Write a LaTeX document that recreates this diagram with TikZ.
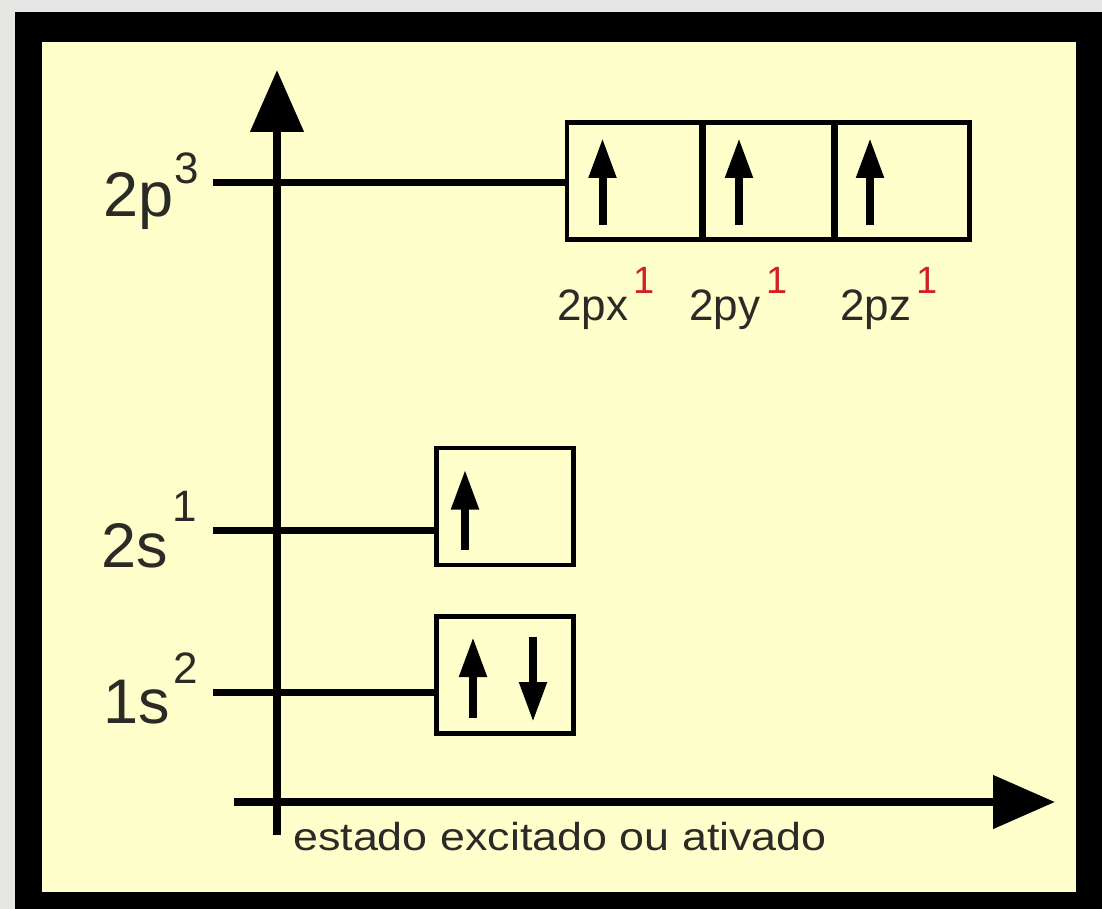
\documentclass[tikz,border=0pt]{standalone}
\usepackage{fontspec}
\setmainfont{Liberation Sans}
\usetikzlibrary{arrows.meta}
\definecolor{bggray}{HTML}{E6E6E4}
\definecolor{paper}{HTML}{FFFFCC}
\definecolor{txtgray}{HTML}{2A2A26}
\definecolor{supred}{HTML}{D42020}
\tikzset{
  orb/.style={draw=black, line width=4.5pt, minimum height=117pt, inner sep=0pt, outer sep=0pt},
  level/.style={line width=7pt},
  axis/.style={line width=8pt, -{Triangle[length=62pt,width=52pt]}},
  spin/.style={line width=8pt, -{Triangle[length=40pt,width=26pt]}},
  divider/.style={line width=7pt},
  biglab/.style={anchor=base west, inner sep=0pt, text=txtgray, font=\fontsize{63}{63}\selectfont},
  suplab/.style={anchor=base west, inner sep=0pt, text=txtgray, font=\fontsize{44}{44}\selectfont},
  sublab/.style={anchor=base west, inner sep=0pt, text=txtgray, font=\fontsize{44}{44}\selectfont},
  redsup/.style={anchor=base west, inner sep=0pt, text=supred, font=\fontsize{38}{38}\selectfont},
}
\begin{document}
\begin{tikzpicture}[x=1pt,y=-1pt]
\useasboundingbox (0,0) rectangle (1102,909);
% background and frame
\fill[bggray] (0,0) rectangle (1102,909);
\fill[black] (15,12) rectangle (1102,909);
\fill[paper] (42,42) rectangle (1076,892);

% orbital boxes
\node[orb, minimum width=135pt] (px) at (634.5,181) {};
\node[orb, minimum width=133pt] (py) at (768,181) {};
\node[orb, minimum width=135pt] (pz) at (902,181) {};
\node[orb, minimum width=137pt] (s2) at (505,506.5) {};
\node[orb, minimum width=137pt] (s1) at (505,675) {};
\draw[divider] (px.north east) -- (px.south east);
\draw[divider] (py.north east) -- (py.south east);

% axes
\coordinate (vbot) at (277,835);
\coordinate (vtop) at (277,70);
\coordinate (hleft) at (234,802);
\coordinate (hright) at (1055,802);
\draw[axis] (vbot) -- (vtop);
\draw[axis] (hleft) -- (hright);

% level lines
\coordinate (l2p) at (213,183);
\coordinate (l2s) at (213,530);
\coordinate (l1s) at (213,692);
\draw[level] (l2p) -- (l2p -| px.west);
\draw[level] (l2s) -- (l2s -| s2.west);
\draw[level] (l1s) -- (l1s -| s1.west);

% spins
\draw[spin] ([xshift=-32pt,yshift=-44pt]px.center) -- ([xshift=-32pt,yshift=43pt]px.center);
\draw[spin] ([xshift=-29pt,yshift=-44pt]py.center) -- ([xshift=-29pt,yshift=43pt]py.center);
\draw[spin] ([xshift=-32pt,yshift=-44pt]pz.center) -- ([xshift=-32pt,yshift=43pt]pz.center);
\draw[spin] ([xshift=-40pt,yshift=-43pt]s2.center) -- ([xshift=-40pt,yshift=37pt]s2.center);
\draw[spin] ([xshift=-32pt,yshift=-43pt]s1.center) -- ([xshift=-32pt,yshift=38pt]s1.center);
\draw[spin] ([xshift=28pt,yshift=38pt]s1.center) -- ([xshift=28pt,yshift=-47pt]s1.center);

% level labels
\node[biglab] (t2p) at (103,217) {2p};
\node[suplab] (t2ps) at (174,184) {3};
\node[biglab] (t2s) at (101,567) {2s};
\node[suplab] (t2ss) at (172,521) {1};
\node[biglab] (t1s) at (103,723) {1s};
\node[suplab] (t1ss) at (173,683) {2};

% sublevel labels
\node[sublab] (lpx) at (557,320) {2px};
\node[redsup] (lpxs) at (633,293) {1};
\node[sublab] (lpy) at (689,320) {2py};
\node[redsup] (lpys) at (766,293) {1};
\node[sublab] (lpz) at (840,320) {2pz};
\node[redsup] (lpzs) at (916,293) {1};

% axis caption
\node[anchor=base west, inner sep=0pt, text=txtgray, font=\fontsize{39}{39}\selectfont] (cap) at (293,850) {\scalebox{1.15}[1]{estado excitado ou ativado}};
\end{tikzpicture}
\end{document}
